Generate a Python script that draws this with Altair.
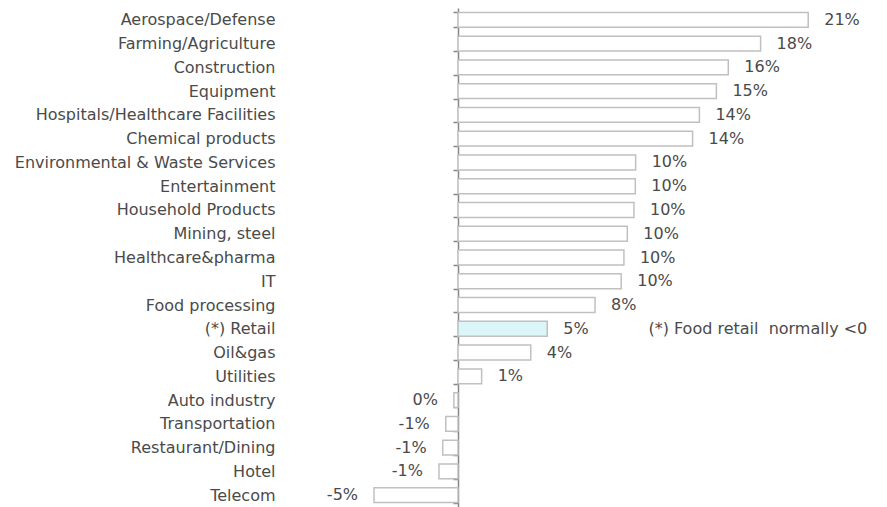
import altair as alt
import pandas as pd

categories = [
    "Aerospace/Defense", "Farming/Agriculture", "Construction", "Equipment",
    "Hospitals/Healthcare Facilities", "Chemical products",
    "Environmental & Waste Services", "Entertainment", "Household Products",
    "Mining, steel", "Healthcare&pharma", "IT", "Food processing",
    "(*) Retail", "Oil&gas", "Utilities", "Auto industry", "Transportation",
    "Restaurant/Dining", "Hotel", "Telecom",
]
values = [
    0.206, 0.178, 0.159, 0.152, 0.142, 0.138, 0.1045, 0.1043, 0.1035,
    0.0996, 0.0976, 0.096, 0.0806, 0.0525, 0.0428, 0.0139, -0.0024,
    -0.0072, -0.009, -0.0112, -0.0494,
]
labels = [
    "21%", "18%", "16%", "15%", "14%", "14%", "10%", "10%", "10%", "10%",
    "10%", "10%", "8%", "5%", "4%", "1%", "0%", "-1%", "-1%", "-1%", "-5%",
]
highlight = ["(*) Retail"]
note_text = "(*) Food retail\u00a0 normally <0"
note_x = 0.112

FONT = "Verdana, DejaVu Sans"
FS = 16
TEXT_COLOR = "#4a4a4a"

df = pd.DataFrame({"cat": categories, "val": values, "label": labels})
df["hl"] = df["cat"].isin(highlight)
df["zero"] = 0.0

x_scale = alt.Scale(domain=[-0.06, 0.22], nice=False, zero=False)
y_enc = alt.Y(
    "cat:N",
    sort=categories,
    scale=alt.Scale(paddingInner=0.375, paddingOuter=0.1875),
    axis=alt.Axis(
        title=None, orient="left", offset=-102,
        domainColor="#868686", domainWidth=1.5,
        tickColor="#868686", tickWidth=1.5, tickSize=5, tickBand="extent",
        labelPadding=178, labelFontSize=FS, labelColor=TEXT_COLOR,
        labelFont=FONT, labelAlign="right", labelLimit=0,
    ),
)

bars = alt.Chart(df).mark_bar(stroke="#c0c0c0", strokeWidth=1.5).encode(
    x=alt.X("val:Q", scale=x_scale, axis=None),
    x2="zero:Q",
    y=y_enc,
    fill=alt.condition("datum.hl", alt.value("#dbf6f8"), alt.value("white")),
)

pos_text = alt.Chart(df).transform_filter("datum.val >= 0").mark_text(
    align="left", baseline="middle", dx=16, fontSize=FS, font=FONT, color=TEXT_COLOR
).encode(
    x=alt.X("val:Q", scale=x_scale, axis=None),
    y=alt.Y("cat:N", sort=categories),
    text="label:N",
)

neg_text = alt.Chart(df).transform_filter("datum.val < 0").mark_text(
    align="right", baseline="middle", dx=-16, fontSize=FS, font=FONT, color=TEXT_COLOR
).encode(
    x=alt.X("val:Q", scale=x_scale, axis=None),
    y=alt.Y("cat:N", sort=categories),
    text="label:N",
)

note_df = pd.DataFrame({"cat": highlight, "x": [note_x], "t": [note_text]})
note = alt.Chart(note_df).mark_text(
    align="left", baseline="middle", fontSize=FS, font=FONT, color=TEXT_COLOR
).encode(
    x=alt.X("x:Q", scale=x_scale, axis=None),
    y=alt.Y("cat:N", sort=categories),
    text="t:N",
)

chart = (
    alt.layer(bars, pos_text, neg_text, note)
    .properties(
        width=476, height=499,
        autosize=alt.AutoSizeParams(type="none"),
        padding={"left": 348, "top": 0, "right": 47, "bottom": 0},
    )
    .configure_view(strokeWidth=0)
)

chart.save("out.html", embed_options={"renderer": "svg", "actions": False})
